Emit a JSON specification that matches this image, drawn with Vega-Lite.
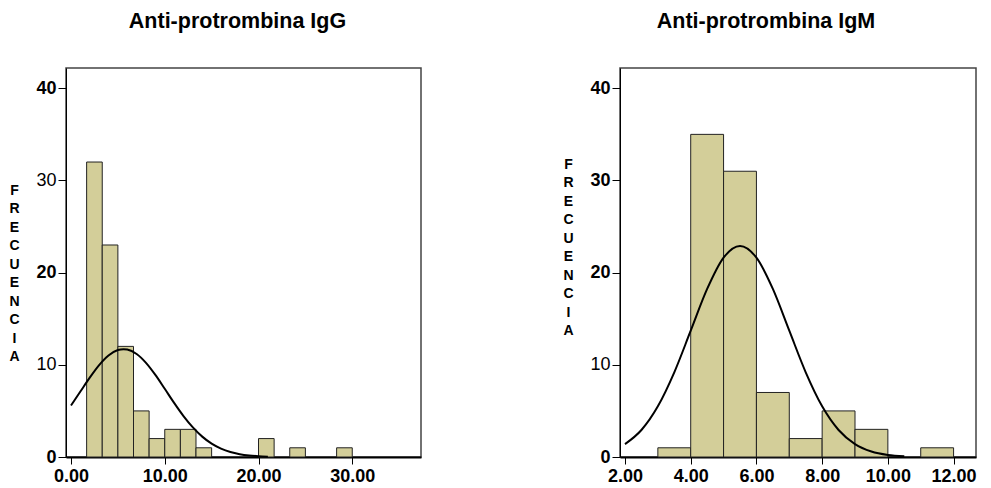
{
  "$schema": "https://vega.github.io/schema/vega-lite/v6.json",
  "padding": {"left": 8, "top": 9, "right": 5, "bottom": 3},
  "spacing": 140,
  "config": {
    "font": "Liberation Sans",
    "view": {"stroke": "#444444", "strokeWidth": 1.5},
    "axis": {"grid": false, "labelFont": "Liberation Sans", "labelFontSize": 18, "labelFontWeight": "bold", "labelColor": "#000000", "domainColor": "#000000", "tickColor": "#000000", "titleFont": "Liberation Sans", "titleColor": "#000000"},
    "title": {"font": "Liberation Sans", "fontSize": 21.5, "fontWeight": "bold", "color": "#000000", "anchor": "middle", "frame": "group", "offset": 36}
  },
  "datasets": {
    "igg_bins": [
      {"bin_start": 1.6667, "bin_end": 3.3333, "count": 32},
      {"bin_start": 3.3333, "bin_end": 5.0, "count": 23},
      {"bin_start": 5.0, "bin_end": 6.6667, "count": 12},
      {"bin_start": 6.6667, "bin_end": 8.3333, "count": 5},
      {"bin_start": 8.3333, "bin_end": 10.0, "count": 2},
      {"bin_start": 10.0, "bin_end": 11.6667, "count": 3},
      {"bin_start": 11.6667, "bin_end": 13.3333, "count": 3},
      {"bin_start": 13.3333, "bin_end": 15.0, "count": 1},
      {"bin_start": 20.0, "bin_end": 21.6667, "count": 2},
      {"bin_start": 23.3333, "bin_end": 25.0, "count": 1},
      {"bin_start": 28.3333, "bin_end": 30.0, "count": 1}
    ],
    "igg_curve": [
      {"x": 0, "y": 5.58}, {"x": 1, "y": 7.10}, {"x": 2, "y": 8.61}, {"x": 3, "y": 9.97},
      {"x": 4, "y": 11.01}, {"x": 5, "y": 11.60}, {"x": 5.6, "y": 11.70}, {"x": 6, "y": 11.66},
      {"x": 7, "y": 11.17}, {"x": 8, "y": 10.21}, {"x": 9, "y": 8.90}, {"x": 10, "y": 7.40},
      {"x": 11, "y": 5.87}, {"x": 12, "y": 4.44}, {"x": 13, "y": 3.21}, {"x": 14, "y": 2.21},
      {"x": 15, "y": 1.45}, {"x": 16, "y": 0.91}, {"x": 17, "y": 0.54}, {"x": 18, "y": 0.31},
      {"x": 19, "y": 0.17}, {"x": 20, "y": 0.09}, {"x": 21, "y": 0.04}
    ],
    "igm_bins": [
      {"bin_start": 3, "bin_end": 4, "count": 1},
      {"bin_start": 4, "bin_end": 5, "count": 35},
      {"bin_start": 5, "bin_end": 6, "count": 31},
      {"bin_start": 6, "bin_end": 7, "count": 7},
      {"bin_start": 7, "bin_end": 8, "count": 2},
      {"bin_start": 8, "bin_end": 9, "count": 5},
      {"bin_start": 9, "bin_end": 10, "count": 3},
      {"bin_start": 11, "bin_end": 12, "count": 1}
    ],
    "igm_curve": [
      {"x": 2, "y": 1.40}, {"x": 2.5, "y": 2.93}, {"x": 3, "y": 5.50}, {"x": 3.5, "y": 9.19},
      {"x": 4, "y": 13.70}, {"x": 4.5, "y": 18.23}, {"x": 5, "y": 21.63}, {"x": 5.5, "y": 22.90},
      {"x": 6, "y": 21.63}, {"x": 6.5, "y": 18.23}, {"x": 7, "y": 13.70}, {"x": 7.5, "y": 9.19},
      {"x": 8, "y": 5.50}, {"x": 8.5, "y": 2.93}, {"x": 9, "y": 1.40}, {"x": 9.5, "y": 0.59},
      {"x": 10, "y": 0.22}, {"x": 10.5, "y": 0.08}
    ]
  },
  "hconcat": [
    {
      "width": 355,
      "height": 389,
      "title": {"text": "Anti-protrombina IgG", "dx": -6},
      "layer": [
        {
          "data": {"name": "igg_bins"},
          "mark": {"type": "bar", "orient": "vertical", "fill": "#d3ce99", "stroke": "#222222", "strokeWidth": 1},
          "encoding": {
            "x": {"field": "bin_start", "type": "quantitative", "scale": {"domain": [0, 36.8], "nice": false, "zero": false},
                  "axis": {"title": null, "values": [0, 10, 20, 30], "format": ".2f", "tickSize": 7, "domainWidth": 2, "labelPadding": 3, "labelFlush": false}},
            "x2": {"field": "bin_end"},
            "y": {"field": "count", "type": "quantitative", "scale": {"domain": [0, 42.2], "nice": false},
                  "axis": {"title": ["F","R","E","C","U","E","N","C","I","A"], "titleAngle": 0, "titleAlign": "center", "titleBaseline": "top", "titleX": -52, "titleY": 115, "titleFontSize": 14, "titleFontWeight": "bold", "titleLineHeight": 18.5,
                           "values": [0, 10, 20, 30, 40], "format": "d", "tickSize": 8, "labelPadding": 2, "domainWidth": 1,
                           "labelFontWeight": {"condition": {"test": "datum.value == 30 || datum.value == 10", "value": "normal"}, "value": "bold"}}}
          }
        },
        {
          "data": {"name": "igg_curve"},
          "mark": {"type": "line", "color": "#000000", "strokeWidth": 2, "interpolate": "monotone"},
          "encoding": {
            "x": {"field": "x", "type": "quantitative"},
            "y": {"field": "y", "type": "quantitative"}
          }
        }
      ]
    },
    {
      "width": 356,
      "height": 389,
      "title": {"text": "Anti-protrombina IgM", "dx": -32},
      "layer": [
        {
          "data": {"name": "igm_bins"},
          "mark": {"type": "bar", "orient": "vertical", "fill": "#d3ce99", "stroke": "#222222", "strokeWidth": 1},
          "encoding": {
            "x": {"field": "bin_start", "type": "quantitative", "scale": {"domain": [2, 12.53], "nice": false, "zero": false},
                  "axis": {"title": null, "values": [2, 4, 6, 8, 10, 12], "format": ".2f", "tickSize": 7, "domainWidth": 2, "labelPadding": 3, "labelFlush": false}},
            "x2": {"field": "bin_end"},
            "y": {"field": "count", "type": "quantitative", "scale": {"domain": [0, 42.2], "nice": false},
                  "axis": {"title": ["F","R","E","C","U","E","N","C","I","A"], "titleAngle": 0, "titleAlign": "center", "titleBaseline": "top", "titleX": -52, "titleY": 89, "titleFontSize": 14, "titleFontWeight": "bold", "titleLineHeight": 18.5,
                           "values": [0, 10, 20, 30, 40], "format": "d", "tickSize": 8, "labelPadding": 2, "domainWidth": 1,
                           "labelFontWeight": {"condition": {"test": "datum.value == 10", "value": "normal"}, "value": "bold"}}}
          }
        },
        {
          "data": {"name": "igm_curve"},
          "mark": {"type": "line", "color": "#000000", "strokeWidth": 2, "interpolate": "monotone"},
          "encoding": {
            "x": {"field": "x", "type": "quantitative"},
            "y": {"field": "y", "type": "quantitative"}
          }
        }
      ]
    }
  ]
}
